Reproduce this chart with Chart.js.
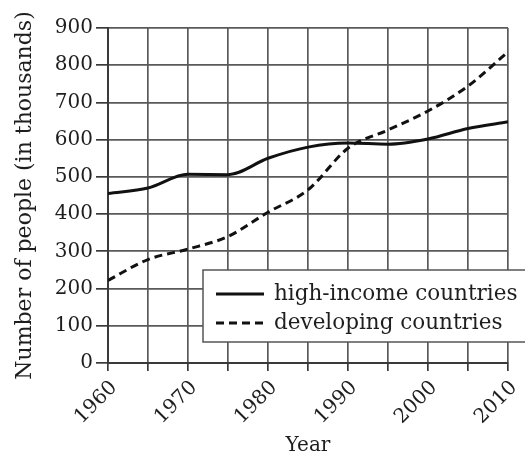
<!DOCTYPE html>
<html>
<head>
<meta charset="utf-8">
<script src="https://cdn.jsdelivr.net/npm/chart.js@4"></script>
<style>
  html, body { margin: 0; padding: 0; background: #fff; }
  #wrap { width: 525px; height: 456px; }
</style>
</head>
<body>
<div id="wrap"><canvas id="chart" width="525" height="456"></canvas></div>
<script>
// data
const years = [1960, 1965, 1970, 1975, 1980, 1985, 1990, 1995, 2000, 2005, 2010];
const highIncome = [455, 470, 507, 506, 550, 580, 591, 588, 602, 630, 648];
const developing = [222, 278, 306, 340, 405, 465, 577, 626, 677, 744, 836];
const yTicks = [0, 100, 200, 300, 400, 500, 600, 700, 800, 900];
const seriesNames = ['high-income countries', 'developing countries'];

const FONT = 'DejaVu Serif';
const TEXT = '#1e1e1e';
const GRID = '#5a5a5a';
const AXIS = '#3a3a3a';

// legend box inside the plot, like the printed figure
const boxLegend = {
    id: 'boxLegend',
    afterDraw(chart) {
        const ctx = chart.ctx;
        ctx.save();
        ctx.fillStyle = '#fff';
        ctx.fillRect(203, 270, 330, 72);
        ctx.strokeStyle = '#555';
        ctx.lineWidth = 1.5;
        ctx.strokeRect(203, 270, 330, 72);
        chart.data.datasets.forEach((ds, i) => {
            const y = 294 + i * 29;
            ctx.strokeStyle = ds.borderColor;
            ctx.lineWidth = ds.borderWidth;
            ctx.setLineDash(ds.borderDash || []);
            ctx.beginPath();
            ctx.moveTo(216, y);
            ctx.lineTo(264, y);
            ctx.stroke();
            ctx.setLineDash([]);
            ctx.fillStyle = TEXT;
            ctx.font = '21.5px "' + FONT + '"';
            ctx.textBaseline = 'middle';
            ctx.fillText(ds.label, 274, y);
        });
        ctx.restore();
    }
};

const ctx = document.getElementById('chart').getContext('2d');
new Chart(ctx, {
    type: 'line',
    data: {
        datasets: [{
            label: seriesNames[0],
            data: years.map((y, i) => ({ x: y, y: highIncome[i] })),
            borderColor: '#111',
            borderWidth: 3,
            pointRadius: 0,
            cubicInterpolationMode: 'monotone',
            fill: false
        }, {
            label: seriesNames[1],
            data: years.map((y, i) => ({ x: y, y: developing[i] })),
            borderColor: '#111',
            borderWidth: 3,
            borderDash: [8, 5],
            pointRadius: 0,
            cubicInterpolationMode: 'monotone',
            fill: false
        }]
    },
    options: {
        responsive: false,
        animation: false,
        layout: { padding: { top: 28, right: 17, left: 0, bottom: 0 } },
        plugins: {
            legend: { display: false },
            tooltip: { enabled: false }
        },
        scales: {
            x: {
                type: 'linear',
                min: years[0],
                max: years[years.length - 1],
                afterFit(scale) {
                    scale.height = 93;
                    scale.paddingLeft = 0;
                    scale.paddingRight = 0;
                },
                afterBuildTicks(scale) {
                    scale.ticks = years.map(v => ({ value: v }));
                },
                ticks: {
                    autoSkip: false,
                    minRotation: 45,
                    maxRotation: 45,
                    padding: 5,
                    labelOffset: 6,
                    color: TEXT,
                    font: { family: FONT, size: 20 },
                    callback: v => (v % 10 === 0 ? String(v) : '')
                },
                grid: { color: GRID, lineWidth: 1.7, tickLength: 8, tickColor: AXIS },
                border: { color: AXIS, width: 2 },
                title: {
                    display: true,
                    text: 'Year',
                    color: TEXT,
                    font: { family: FONT, size: 20 },
                    padding: { top: 0, bottom: -2 }
                }
            },
            y: {
                min: 0,
                max: 900,
                afterFit(scale) {
                    scale.width = 108;
                    scale.paddingTop = 0;
                    scale.paddingBottom = 0;
                },
                afterBuildTicks(scale) {
                    scale.ticks = yTicks.map(v => ({ value: v }));
                },
                ticks: {
                    padding: 3,
                    color: TEXT,
                    font: { family: FONT, size: 20 }
                },
                grid: { color: GRID, lineWidth: 1.7, tickLength: 12, tickColor: AXIS },
                border: { color: AXIS, width: 2 },
                title: {
                    display: true,
                    text: 'Number of people (in thousands)',
                    color: TEXT,
                    font: { family: FONT, size: 22 },
                    padding: { top: 12, bottom: 0 }
                }
            }
        }
    },
    plugins: [boxLegend]
});
</script>
</body>
</html>
